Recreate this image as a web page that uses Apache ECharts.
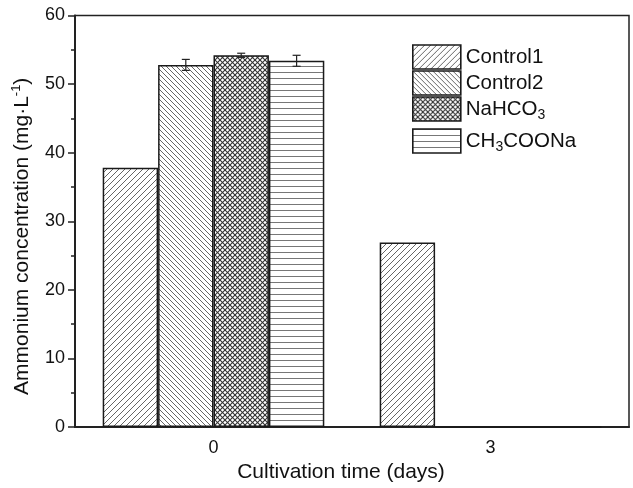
<!DOCTYPE html>
<html>
<head>
<meta charset="utf-8">
<script src="https://cdn.jsdelivr.net/npm/echarts@6/dist/echarts.min.js"></script>
<style>html,body{margin:0;padding:0;background:#fff;}#c{width:633px;height:488px;}</style>
</head>
<body>
<div id="c"></div>
<script>
// ---- data ----
var days = ['0', '3'];
var seriesNames = ['Control1', 'Control2', 'NaHCO3', 'CH3COONa'];
var control1 = [37.8, 26.9];
var control2 = [52.8, 0];
var nahco3 = [54.2, 0];
var ch3coona = [53.4, 0];
var control1Err = [0, 0];
var control2Err = [0.8, 0];
var nahco3Err = [0.3, 0];
var ch3coonaErr = [0.8, 0];
var yTicks = [0, 10, 20, 30, 40, 50, 60];

var values = [control1, control2, nahco3, ch3coona];
var errs = [control1Err, control2Err, nahco3Err, ch3coonaErr];

function makePattern(type) {
  var s = {c1: 6, c2: 5, x: 5, h: 6}[type];
  var cv = document.createElement('canvas');
  cv.width = s; cv.height = s;
  var ctx = cv.getContext('2d');
  ctx.fillStyle = '#fff'; ctx.fillRect(0, 0, s, s);
  ctx.lineWidth = 1;
  function ln(a, b, c, d) { ctx.beginPath(); ctx.moveTo(a, b); ctx.lineTo(c, d); ctx.stroke(); }
  if (type === 'c1' || type === 'x') {
    ctx.strokeStyle = type === 'x' ? '#333' : '#666';
    if (type === 'x') ctx.lineWidth = 1.1;
    ln(0, s, s, 0); ln(-1, 1, 1, -1); ln(s - 1, s + 1, s + 1, s - 1);
  }
  if (type === 'c2' || type === 'x') {
    ctx.strokeStyle = type === 'x' ? '#333' : '#666';
    ln(0, 0, s, s); ln(-1, s - 1, 1, s + 1); ln(s - 1, -1, s + 1, 1);
  }
  if (type === 'h') {
    ctx.strokeStyle = '#777';
    ln(0, 0.5, s, 0.5);
  }
  return {image: cv, repeat: 'repeat'};
}
var patterns = [makePattern('c1'), makePattern('c2'), makePattern('x'), makePattern('h')];

var legendLabels = {
  'Control1': 'Control1',
  'Control2': 'Control2',
  'NaHCO3': 'NaHCO{s|3}',
  'CH3COONa': 'CH{s|3}COONa'
};

var FONT = 'Liberation Sans, Arial, sans-serif';

var series = seriesNames.map(function (n, i) {
  return {
    name: n,
    type: 'bar',
    data: values[i],
    barWidth: '20%',
    barGap: 0,
    itemStyle: {color: patterns[i], borderColor: '#1a1a1a', borderWidth: 1.5},
    emphasis: {disabled: true},
    z: 2
  };
});

var errData = [];
seriesNames.forEach(function (n, i) {
  days.forEach(function (d, j) {
    if (errs[i][j] > 0) errData.push([j, values[i][j], errs[i][j], i]);
  });
});

series.push({
  type: 'custom',
  coordinateSystem: 'cartesian2d',
  data: errData,
  z: 5,
  silent: true,
  renderItem: function (params, api) {
    var cat = api.value(0), v = api.value(1), e = api.value(2), si = api.value(3);
    var band = api.size([1, 0])[0];
    var bw = band * 0.2;
    var off = (si - 1.5) * bw;
    var top = api.coord([cat, v + e]);
    var bot = api.coord([cat, v - e]);
    var x = top[0] + off;
    var cw = 4;
    var st = {stroke: '#222', lineWidth: 1.2};
    return {
      type: 'group',
      children: [
        {type: 'line', shape: {x1: x, y1: top[1], x2: x, y2: bot[1]}, style: st},
        {type: 'line', shape: {x1: x - cw, y1: top[1], x2: x + cw, y2: top[1]}, style: st},
        {type: 'line', shape: {x1: x - cw, y1: bot[1], x2: x + cw, y2: bot[1]}, style: st}
      ]
    };
  }
});

var legendCommon = {
  orient: 'vertical',
  left: 412,
  padding: 0,
  itemWidth: 48,
  itemHeight: 24,
  itemGap: 0,
  icon: 'rect',
  selectedMode: false,
  itemStyle: {borderColor: '#1a1a1a', borderWidth: 1.6},
  formatter: function (n) { return legendLabels[n]; },
  textStyle: {
    fontFamily: FONT,
    fontSize: 20.5, color: '#111', lineHeight: 26,
    rich: {s: {fontSize: 14, lineHeight: 8, verticalAlign: 'bottom', color: '#111', fontFamily: FONT}}
  }
};

var chart = echarts.init(document.getElementById('c'), null, {renderer: 'canvas'});
chart.setOption({
  animation: false,
  backgroundColor: '#fff',
  textStyle: {fontFamily: FONT},
  grid: {left: 75, right: 4, top: 15.5, bottom: 60, show: true, borderColor: '#222', borderWidth: 1.5, containLabel: false},
  legend: [
    Object.assign({}, legendCommon, {top: 44, data: seriesNames.slice(0, 3)}),
    Object.assign({}, legendCommon, {top: 128, data: seriesNames.slice(3)})
  ],
  xAxis: {
    type: 'category',
    data: days,
    name: 'Cultivation time (days)',
    nameLocation: 'middle',
    nameGap: 28,
    nameTextStyle: {fontSize: 21, color: '#111', padding: [0, 22, 0, 0]},
    axisLine: {lineStyle: {color: '#222', width: 2}},
    axisTick: {inside: true, alignWithLabel: true, length: 7, lineStyle: {color: '#222', width: 1.5}},
    axisLabel: {fontSize: 18, color: '#111', margin: 12}
  },
  yAxis: {
    type: 'value',
    min: yTicks[0],
    max: yTicks[yTicks.length - 1],
    interval: yTicks[1] - yTicks[0],
    name: 'Ammonium concentration (mg·L{sup|-1})',
    nameLocation: 'middle',
    nameGap: 30,
    nameTextStyle: {fontSize: 21, color: '#111', lineHeight: 24, padding: [0, 30, 0, 0],
      rich: {sup: {fontSize: 13, lineHeight: 12, verticalAlign: 'top', color: '#111'}}},
    axisLine: {show: true, lineStyle: {color: '#222', width: 2}},
    axisTick: {show: true, inside: false, length: 7, lineStyle: {color: '#222', width: 1.5}},
    minorTick: {show: true, splitNumber: 2, length: 4, lineStyle: {color: '#222', width: 1.5}},
    splitLine: {show: false},
    axisLabel: {fontSize: 18, color: '#111', margin: 10}
  },
  series: series
});
</script>
</body>
</html>
